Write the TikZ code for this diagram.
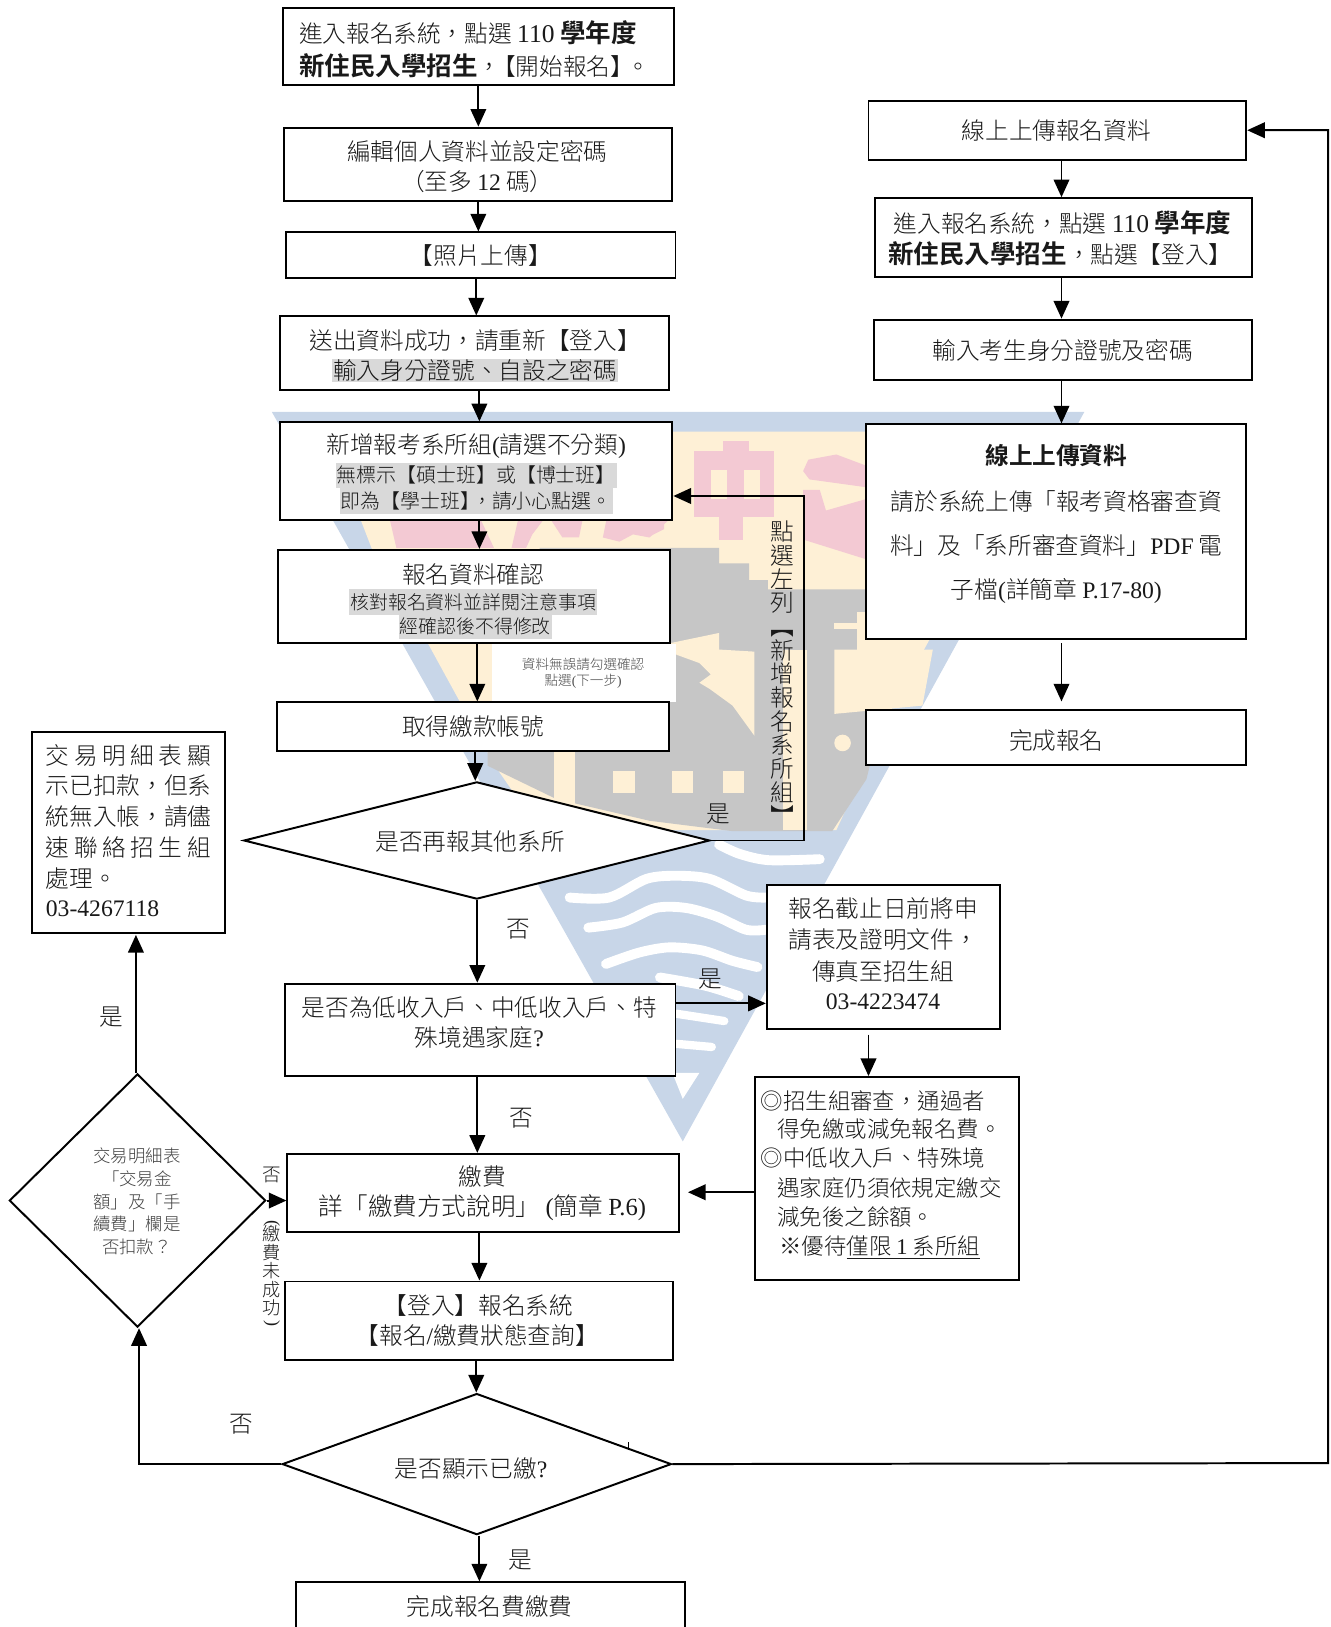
\documentclass[tikz,border=0pt]{standalone}
\usepackage{fontspec}
\usepackage{graphicx}
\setmainfont{Noto Sans CJK TC}[UprightFont=* Light,BoldFont=* Bold]
\newfontfamily\latf{Liberation Serif}
\newcommand\lat[1]{{\latf #1}}
\newcommand\rb[1]{\rotatebox[origin=c]{-90}{#1}}
\newcommand\bg[1]{{\fontsize{24.6}{28}\selectfont #1}}
\usetikzlibrary{arrows.meta,shapes.geometric,calc}
\definecolor{wmblue}{RGB}{200,214,232}
\definecolor{wmcream}{RGB}{254,240,214}
\definecolor{wmgray}{RGB}{198,198,198}
\definecolor{wmpink}{RGB}{243,201,211}
\definecolor{hl}{RGB}{217,217,217}
\definecolor{ink}{RGB}{25,25,25}
\tikzset{
  flowbox/.style={draw=black,line width=1.9pt,fill=white,inner sep=0pt},
  dia/.style={draw=black,line width=1.9pt,fill=white,diamond,inner sep=0pt},
  arr/.style={draw=black,line width=1.9pt,-{Triangle[length=17pt,width=15pt]}},
  bigt/.style={font=\fontsize{22.8}{28}\selectfont,text=ink,inner sep=0pt},
  kt/.style={font=\fontsize{21.6}{28}\selectfont,text=ink,inner sep=0pt,anchor=west},
  midt/.style={font=\fontsize{19.2}{23}\selectfont,text=ink,inner sep=0pt},
  hlt/.style={midt,fill=hl,inner xsep=1pt,inner ysep=2.5pt,minimum height=24.5pt},
  smt/.style={font=\fontsize{16.8}{22}\selectfont,text=black!75,inner sep=0pt},
  tinyt/.style={font=\fontsize{13.1}{17}\selectfont,text=black!70,inner sep=0pt},
  vert/.style={font=\fontsize{22.8}{22.8}\selectfont,text=ink,inner sep=0pt,align=center},
  vertb/.style={font=\fontsize{17.5}{17.8}\selectfont,text=ink,inner sep=0pt,align=center},
  wave/.style={draw=white,line width=9.5pt,line cap=round},
}
\newcommand\bx[6]{\node[flowbox,minimum width={(#4-#2)*1pt},minimum height={(#5-#3)*1pt}] (#1) at ({(#2+#4)/2},{(#3+#5)/2}) {#6};}
\begin{document}
\begin{tikzpicture}[x=1pt,y=-1pt]
\useasboundingbox (0,0) rectangle (1281.8,1568);
% ---- watermark ----
\fill[wmblue] (262,397)--(1045,397)--(658,1100)--cycle;
\fill[wmcream] (301,416)--(1006,416)--(896,616)--(861,680)--(806,800)--(520,800)--(477,738)--(414,623)--(358,528)--(348,502)--cycle;
\fill[wmgray] (520,528)--(693,528)--(693,543)--(722,543)--(722,559)--(740,559)--(740,568)--(840,568)--(840,626)--(850,690)--(835,751)--(802,801)--(706,801)--(626,791)--(536,770)--(470,738)--(470,700)--(520,620)--cycle;
\fill[wmcream] (645,620)--(693,610)--(693,626)--(727,628)--(727,709)--(706,680)--(684,664)--(674,658)--(685,650)--(674,639)--(652,631)--cycle;
\fill[wmcream] (804,626)--(899,626)--(889,680)--(804,688)--cycle;
\fill[wmcream] (826,590) rectangle (845,626);
\fill[wmcream] (804,600) rectangle (826,606);
\fill[wmcream] (812,716) circle (8);
\fill[wmcream] (755,626) rectangle (778,800);
\fill[wmcream] (534,725) rectangle (554,790);
\fill[wmcream] (591,743) rectangle (612,764);
\fill[wmcream] (648,743) rectangle (668,764);
\fill[wmcream] (697,743) rectangle (717,764);
\fill[wmpink] (697,425) rectangle (722,435);
\fill[wmpink] (669,435) rectangle (746,498);
\fill[wmpink] (693,498) rectangle (716,520);
\fill[wmcream] (685,453) rectangle (701,481);
\fill[wmcream] (717,453) rectangle (732,481);
\fill[wmpink] (774,454)--(779,443)--(806,438)--(838,450)--(838,470)--(780,462)--cycle;
\fill[wmpink] (774,472)--(790,472)--(796,492)--(838,480)--(838,540)--(774,520)--cycle;
\fill[wmpink] (616,498)--(640,498)--(640,510)--(628,516)--cycle;
\fill[wmpink] (375,498)--(462,498)--(476,528)--(382,528)--cycle;
\fill[wmpink] (500,498)--(526,498)--(513,515)--(507,528)--(493,528)--cycle;
\fill[wmpink] (529,498)--(562,498)--(558,518)--(542,518)--cycle;
\fill[wmpink] (581,518)--(585,498)--(648,498)--(626,518)--(610,515)--(597,522)--cycle;
\draw[wave] plot[smooth] coordinates {(693,814) (713,823) (741,829) (790,828)};
\draw[wave] plot[smooth] coordinates {(549,865) (587,865) (623,847) (652,844) (684,847) (719,863) (738,865)};
\draw[wave] plot[smooth] coordinates {(567,894) (600,889) (632,875) (661,875) (690,883) (719,896) (738,896)};
\draw[wave] plot[smooth] coordinates {(584,929) (616,918) (645,913) (677,916) (706,926) (730,932)};
\draw[wave] plot[smooth] coordinates {(636,942) (680,950) (712,960)};
\draw[wave,line width=8pt] (652,977) -- (698,984);
\draw[wave,line width=8pt] (652,1006) -- (686,1009);
\fill[white] (648,1034)--(674,1034)--(658,1059)--cycle;
% ---- white patch behind small note ----
\fill[white] (474,621) rectangle (651,677);
% ---- left column boxes ----
\bx{a}{273}{8}{650}{82}{}
\node[bigt,anchor=west] (at1) at (288,32) {進入報名系統，點選 \bg{\lat{110} \textbf{學年度}}};
\node[bigt,anchor=west] (at2) at (288,63) {\bg{\textbf{新住民入學招生}}，\kern-9pt【開始報名】\kern-7pt。};
\bx{b}{274}{123}{648}{194}{}
\node[bigt] (bt1) at (460,146) {編輯個人資料並設定密碼};
\node[bigt] (bt2) at (460,175) {（至多 \lat{12} 碼）};
\bx{c}{276}{224}{651}{268}{\fontsize{22.8}{28}\selectfont\color{ink}【照片上傳】}
\bx{d}{270}{305}{645}{376}{}
\node[bigt] (dt1) at (458,328) {送出資料成功，請重新【登入】};
\node[bigt,fill=hl,inner xsep=1pt,inner ysep=1pt] (dt2) at (458,357) {輸入身分證號、自設之密碼};
\bx{e}{270}{407}{648}{501}{}
\node[bigt] (et1) at (459,430) {新增報考系所組\lat{(}請選不分類\lat{)}};
\node[hlt] (et2) at (459,458) {無標示【碩士班】或【博士班】};
\node[hlt] (et3) at (459,483) {即為【學士班】\kern-8pt，請小心點選。};
\bx{f}{268}{530}{646}{620}{}
\node[bigt] (ft1) at (456,554) {報名資料確認};
\node[hlt,font=\fontsize{18.2}{23}\selectfont] (ft2) at (456,580) {核對報名資料並詳閱注意事項};
\node[hlt,font=\fontsize{18.2}{23}\selectfont] (ft3) at (458,604) {經確認後不得修改};
\node[tinyt] (nt1) at (562,640) {資料無誤請勾選確認};
\node[tinyt] (nt2) at (562,657) {點選\lat{(}下一步\lat{)}};
\bx{g}{267}{677}{645}{724}{}
\node[bigt] (gt) at (456,700) {取得繳款帳號};
\node[dia,minimum width=449pt,minimum height=113pt] (h) at (459.5,810) {};
\node[bigt] (ht) at (453,811) {是否再報其他系所};
\bx{i}{275}{948}{651}{1037}{}
\node[bigt] (it1) at (462,971) {是否為低收入戶、中低收入戶、特};
\node[bigt] (it2) at (462,1000) {殊境遇家庭\lat{?}};
\bx{j}{739}{853}{964}{992}{}
\node[bigt] (jt1) at (851,876) {報名截止日前將申};
\node[bigt] (jt2) at (851,906) {請表及證明文件，};
\node[bigt] (jt3) at (851,936) {傳真至招生組};
\node[bigt] (jt4) at (851,965) {\lat{03-4223474}};
\bx{k}{728}{1038}{982}{1234}{}
\node[kt] (kt1) at (733,1061) {◎招生組審查，通過者};
\node[kt] (kt2) at (749,1088) {得免繳或減免報名費。};
\node[kt] (kt3) at (733,1116) {◎中低收入戶、特殊境};
\node[kt] (kt4) at (749,1145) {遇家庭仍須依規定繳交};
\node[kt] (kt5) at (749,1173) {減免後之餘額。};
\node[kt] (kt6) at (751,1202) {※優待\underline{僅限 \lat{1} 系所組}};
\bx{l}{277}{1112}{654}{1187}{}
\node[bigt] (lt1) at (465,1134) {繳費};
\node[bigt,font=\fontsize{23.7}{28}\selectfont] (lt2) at (465,1164) {詳「繳費方式說明」 \lat{(}簡章 \lat{P.6)}};
\bx{m}{275}{1235}{649}{1311}{}
\node[bigt] (mt1) at (461,1258) {【登入】報名系統};
\node[bigt] (mt2) at (460,1287) {【報名\lat{/}繳費狀態查詢】};
\node[dia,minimum width=375pt,minimum height=136pt] (n) at (459.5,1411) {};
\node[bigt] (nt) at (454,1415) {是否顯示已繳\lat{?}};
\node[flowbox,minimum width=375pt,minimum height=90pt] (o) at (472.5,1570) {};
\node[bigt] (ot) at (472,1548) {完成報名費繳費};
% ---- left side ----
\bx{p}{31}{705}{217}{899}{}
\node[bigt,anchor=west] (pt1) at (44,728) {\makebox[159pt][s]{交\hfill 易\hfill 明\hfill 細\hfill 表\hfill 顯}};
\node[bigt,anchor=west] (pt2) at (44,757) {\makebox[159pt][s]{示\hfill 已\hfill 扣\hfill 款\hfill ，\hfill 但\hfill 系}};
\node[bigt,anchor=west] (pt3) at (44,787) {\makebox[159pt][s]{統\hfill 無\hfill 入\hfill 帳\hfill ，\hfill 請\hfill 儘}};
\node[bigt,anchor=west] (pt4) at (44,817) {\makebox[159pt][s]{速\hfill 聯\hfill 絡\hfill 招\hfill 生\hfill 組}};
\node[bigt,anchor=west] (pt5) at (44,847) {處理。};
\node[bigt,anchor=west] (pt6) at (44,876) {\lat{03-4267118}};
\node[dia,minimum width=247pt,minimum height=244pt] (q) at (132.5,1157) {};
\node[smt] (qt1) at (132,1114) {交易明細表};
\node[smt] (qt2) at (132,1136) {「交易金};
\node[smt] (qt3) at (132,1158) {額」及「手};
\node[smt] (qt4) at (132,1180) {續費」欄是};
\node[smt] (qt5) at (132,1202) {否扣款？};
% ---- right column ----
\bx{r}{837}{97}{1201}{154}{}
\node[bigt] (rt) at (1018,126) {線上上傳報名資料};
\bx{s}{843}{191}{1207}{267}{}
\node[bigt] (st1) at (1024,215) {進入報名系統，點選 \bg{\lat{110} \textbf{學年度}}};
\node[bigt] (st2) at (1022,245) {\bg{\textbf{新住民入學招生}}，點選【登入】};
\bx{t}{842}{308}{1207}{366}{}
\node[bigt] (tt) at (1024,338) {輸入考生身分證號及密碼};
\bx{u}{835}{409}{1201}{616}{}
\node[bigt] (ut1) at (1018,439) {\textbf{線上上傳資料}};
\node[bigt] (ut2) at (1018,483) {請於系統上傳「報考資格審查資};
\node[bigt] (ut3) at (1018,526) {料」及「系所審查資料」\lat{PDF} 電};
\node[bigt] (ut4) at (1018,570) {子檔\lat{(}詳簡章 \lat{P.17-80)}};
\bx{v}{835}{684}{1201}{737}{}
\node[bigt] (vt) at (1018,714) {完成報名};
% ---- connectors ----
\draw[arr] (461,0 |- a.south) -- (461,0 |- b.north);
\draw[arr] (461,0 |- b.south) -- (461,0 |- c.north);
\draw[arr] (459,0 |- c.south) -- (459,0 |- d.north);
\draw[arr] (462,0 |- d.south) -- (462,0 |- e.north);
\draw[arr] (462,0 |- e.south) -- (462,0 |- f.north);
\draw[arr] (460,0 |- f.south) -- (460,0 |- g.north);
\draw[arr] (458,0 |- g.south) -- (458,0 |- h.north);
\draw[arr] (460,0 |- h.south) -- (460,0 |- i.north);
\draw[arr] (460,0 |- i.south) -- (460,0 |- l.north);
\draw[arr] (462,0 |- l.south) -- (462,0 |- m.north);
\draw[arr] (459,0 |- m.south) -- (459,0 |- n.north);
\draw[arr] (462,0 |- n.south) -- (462,0 |- o.north);
\coordinate (fbk) at (775,478);
\draw[arr] (h.east) -- (fbk |- h.east) -- (fbk) -- (e.east |- fbk);
\draw[arr] (i.east |- 0,967) -- (j.west |- 0,967);
\coordinate (jk) at (837,997);
\draw[arr] (jk) -- (jk |- k.north);
\coordinate (kl) at (663,1149);
\draw[arr] (k.west |- kl) -- (kl);
\draw[arr] (q.east) -- (l.west |- q.east);
\coordinate (pin) at (131,901);
\draw[arr] (pin |- q.north) -- (pin);
\coordinate (qin) at (134,1280);
\draw[arr] (n.west) -- (qin |- n.west) -- (qin);
\coordinate (far) at (1280,1410);
\draw[arr] (n.east) -- (far) -- (far |- r.east) -- (r.east);
\draw[arr] (1023,0 |- r.south) -- (1023,0 |- s.north);
\draw[arr] (1023,0 |- s.south) -- (1023,0 |- t.north);
\draw[arr] (1023,0 |- t.south) -- (1023,0 |- u.north);
\coordinate (uv1) at (1023,620);
\coordinate (uv2) at (1023,676);
\draw[arr] (uv1) -- (uv2);
\coordinate (tick1) at (606,1390);
\coordinate (tick2) at (606,1397);
\draw[line width=1pt] (tick1) -- (tick2);
% ---- labels ----
\node[vert] (vl) at (754,650) {點\\選\\左\\列\\\rb{【}\\新\\增\\報\\名\\系\\所\\組\\\rb{】}};
\node[vertb] (vl2) at (262,1228) {\rb{\lat{(}}\\[-5.5pt]繳\\費\\未\\成\\功\\[-5.5pt]\rb{\lat{)}}};
\node[font=\fontsize{18}{20}\selectfont,text=ink,inner sep=0pt] (no5) at (262,1132) {否};
\node[bigt] (yes1) at (692,785) {是};
\node[bigt] (no1) at (500,896) {否};
\node[bigt] (yes2) at (685,944) {是};
\node[bigt] (no2) at (502,1078) {否};
\node[bigt] (no3) at (233,1373) {否};
\node[bigt] (yes3) at (501,1503) {是};
\node[bigt] (yes4) at (107,980) {是};
\end{tikzpicture}
\end{document}
